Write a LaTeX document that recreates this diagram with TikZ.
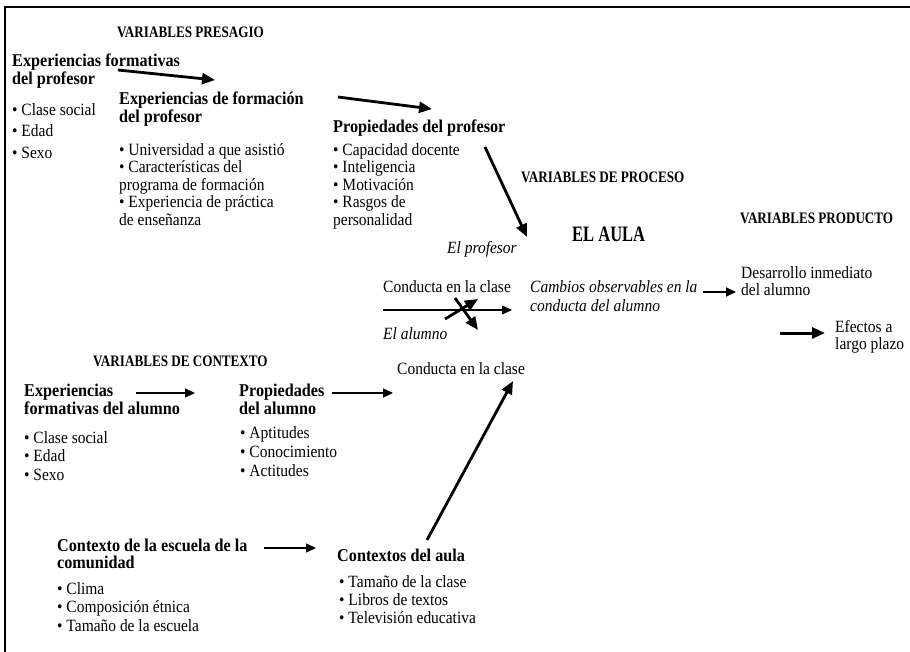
\documentclass[tikz,border=0pt]{standalone}
\usepackage{fontspec}
\setmainfont[FakeStretch=0.9]{Liberation Serif}
\newfontfamily\capsfont[FakeStretch=0.82]{Liberation Serif}
\newfontfamily\aulafont[FakeStretch=0.75]{Liberation Serif}
\usetikzlibrary{arrows.meta,positioning}

\begin{document}
\begin{tikzpicture}[x=1pt, y=-1pt,
  txt/.style={inner sep=0pt, align=left, font=\fontsize{17.2}{17.5}\selectfont},
  blk/.style={txt, anchor=north west},
  hd/.style={blk, font=\bfseries\fontsize{18}{16.5}\selectfont},
  hdone/.style={txt, anchor=west, font=\bfseries\fontsize{18}{18}\selectfont},
  varhd/.style={txt, anchor=west, font=\capsfont\bfseries\fontsize{16}{17}\selectfont},
  ital/.style={txt, font=\itshape\fontsize{17.2}{19.5}\selectfont},
  arr/.style={-{Triangle[length=10pt,width=9pt]}, line width=1.3pt},
  bigarr/.style={-{Triangle[length=13pt,width=11pt]}, line width=2.8pt}
]
  \useasboundingbox (0,0) rectangle (910,652);
  \draw[line width=1.6pt] (5,652) -- (5,7) -- (910,7);

  % presagio
  \node[varhd] (presagio) at (117,32) {VARIABLES PRESAGIO};
  \node[hd] (expprof) at (12,54) {Experiencias formativas\\del profesor};
  \node[blk, font=\fontsize{17.2}{21.5}\selectfont] (expproflist) at (12,103) {• Clase social\\• Edad\\• Sexo};
  \node[hd] (formprof) at (119,92) {Experiencias de formación\\del profesor};
  \node[blk] (formproflist) at (119,143) {• Universidad a que asistió\\• Características del\\programa de formación\\• Experiencia de práctica\\de enseñanza};
  \node[hdone] (propprof) at (333,128) {Propiedades del profesor};
  \node[blk] (propproflist) at (333,143) {• Capacidad docente\\• Inteligencia\\• Motivación\\• Rasgos de\\personalidad};

  % proceso
  \node[varhd] (proceso) at (521,177) {VARIABLES DE PROCESO};
  \node[txt, anchor=west, font=\aulafont\bfseries\fontsize{22}{22}\selectfont] (aula) at (572,234) {EL AULA};
  \node[ital, anchor=west] (elprof) at (447,249) {El profesor};
  \node[txt, anchor=west] (condprof) at (383,287) {Conducta en la clase};
  \node[ital, anchor=north west] (cambios) at (530,280) {Cambios observables en la\\conducta del alumno};
  \node[ital, anchor=west] (elalum) at (383,334) {El alumno};
  \node[txt, anchor=west] (condalum) at (397,369) {Conducta en la clase};

  % producto
  \node[varhd] (producto) at (740,218) {VARIABLES PRODUCTO};
  \node[blk, font=\fontsize{17.2}{17}\selectfont] (desarrollo) at (741,266) {Desarrollo inmediato\\del alumno};
  \node[blk, font=\fontsize{17.2}{17}\selectfont] (efectos) at (835,320) {Efectos a\\largo plazo};

  % contexto
  \node[varhd] (contexto) at (93,361) {VARIABLES DE CONTEXTO};
  \node[hd, font=\bfseries\fontsize{18}{18}\selectfont] (expalum) at (24,384) {Experiencias\\formativas del alumno};
  \node[blk, font=\fontsize{17.2}{18.5}\selectfont] (expalumlist) at (24,431) {• Clase social\\• Edad\\• Sexo};
  \node[hd, font=\bfseries\fontsize{18}{18}\selectfont] (propalum) at (239,384) {Propiedades\\del alumno};
  \node[blk, font=\fontsize{17.2}{19}\selectfont] (propalumlist) at (240,426) {• Aptitudes\\• Conocimiento\\• Actitudes};
  \node[hd, font=\bfseries\fontsize{18}{17}\selectfont] (escuela) at (57,539) {Contexto de la escuela de la\\comunidad};
  \node[blk, font=\fontsize{17.2}{18.5}\selectfont] (escuelalist) at (57,582) {• Clima\\• Composición étnica\\• Tamaño de la escuela};
  \node[hdone] (aulactx) at (337,555) {Contextos del aula};
  \node[blk, font=\fontsize{17.2}{18}\selectfont] (aulactxlist) at (339,575) {• Tamaño de la clase\\• Libros de textos\\• Televisión educativa};

  % arrow ends
  \coordinate (p1a) at (118,70);  \coordinate (p1b) at (215,80);
  \coordinate (p2a) at (338,97);  \coordinate (p2b) at (432,109);
  \coordinate (p3a) at (485,147); \coordinate (p3b) at (527,237);
  \coordinate (hza) at (383,310); \coordinate (hzb) at (512,310);
  \coordinate (xua) at (445,319); \coordinate (xub) at (478,299);
  \coordinate (xda) at (455,298); \coordinate (xdb) at (478,330);
  \coordinate (d1a) at (703,292); \coordinate (d1b) at (736,292);
  \coordinate (e1a) at (780,333); \coordinate (e1b) at (825,333);
  \coordinate (c1a) at (136,393); \coordinate (c1b) at (195,393);
  \coordinate (c2a) at (332,393); \coordinate (c2b) at (393,393);
  \coordinate (c3a) at (264,548); \coordinate (c3b) at (316,548);
  \coordinate (c4a) at (427,540); \coordinate (c4b) at (513,381);

  \draw[bigarr] (p1a) -- (p1b);
  \draw[bigarr] (p2a) -- (p2b);
  \draw[bigarr] (p3a) -- (p3b);
  \draw[arr] (hza) -- (hzb);
  \draw[bigarr] (xua) -- (xub);
  \draw[bigarr] (xda) -- (xdb);
  \draw[arr, line width=2pt] (d1a) -- (d1b);
  \draw[bigarr, line width=3pt] (e1a) -- (e1b);
  \draw[arr] (c1a) -- (c1b);
  \draw[arr] (c2a) -- (c2b);
  \draw[arr] (c3a) -- (c3b);
  \draw[bigarr] (c4a) -- (c4b);
\end{tikzpicture}
\end{document}
